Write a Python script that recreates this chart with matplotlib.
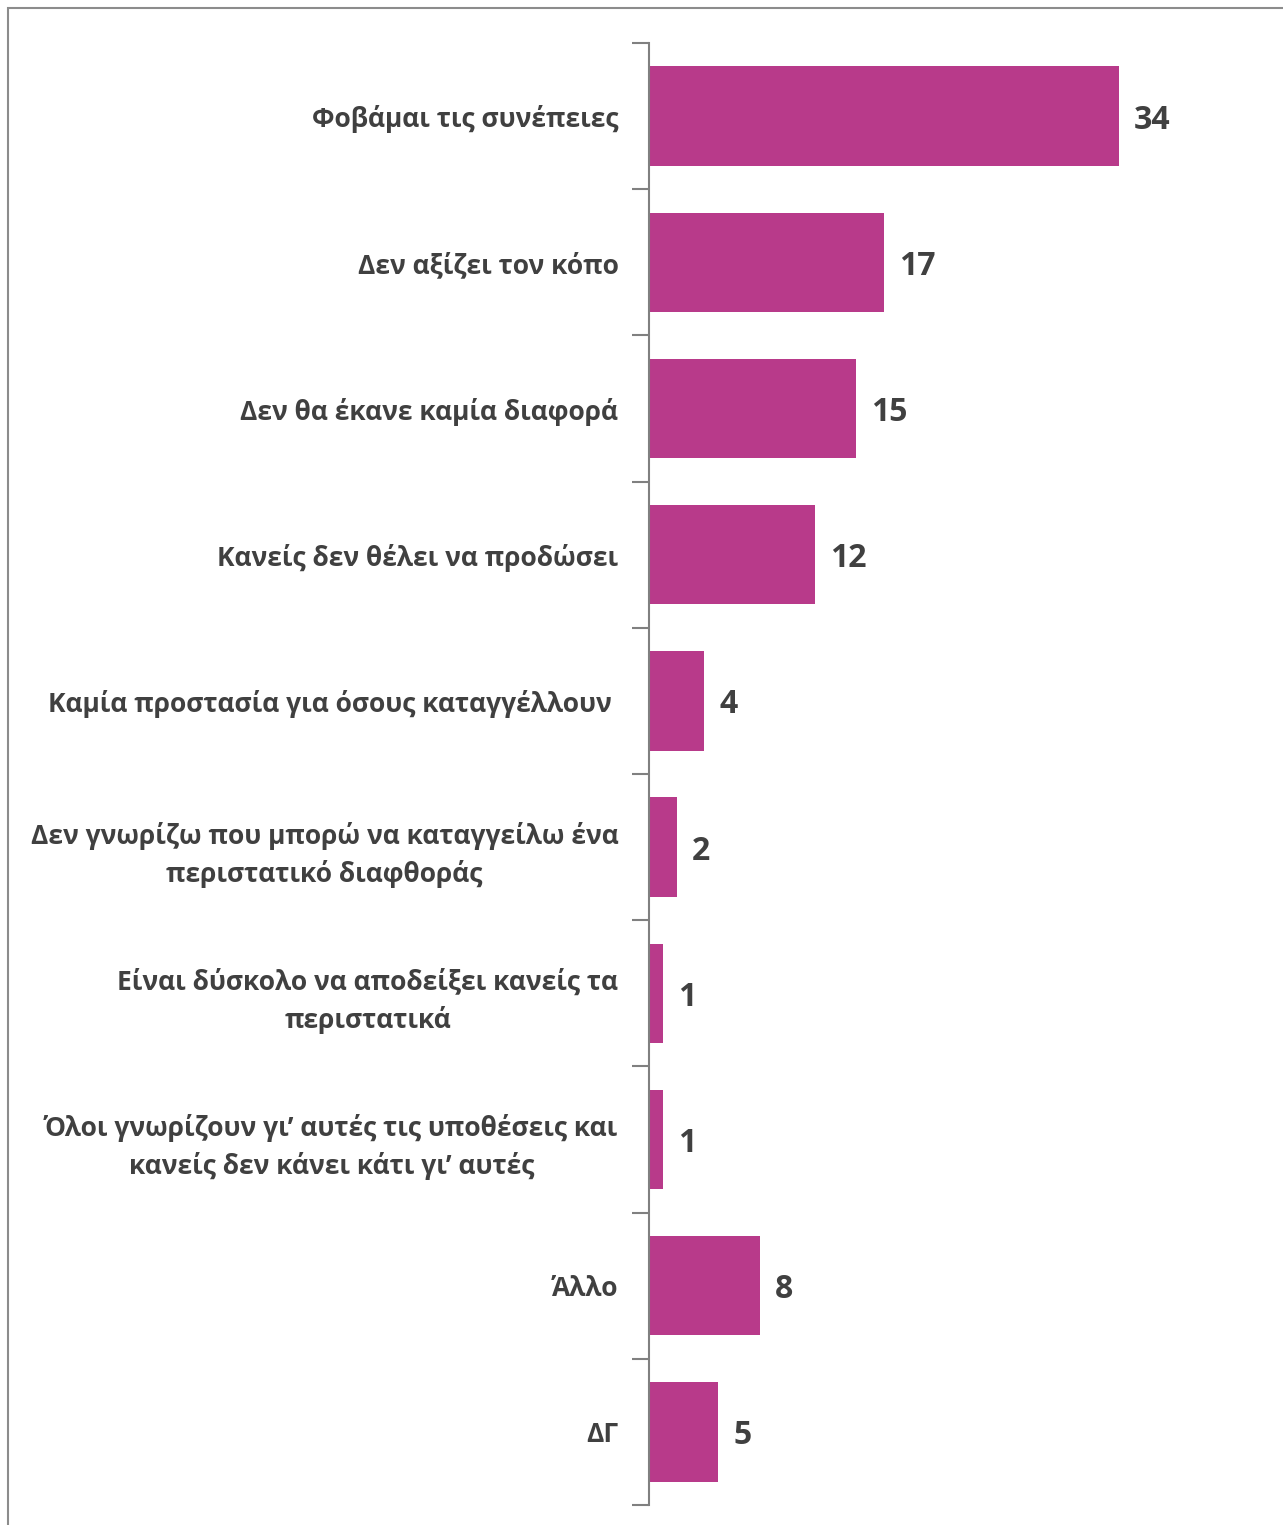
import matplotlib.pyplot as plt
from matplotlib.patches import Rectangle
from matplotlib.ticker import FixedLocator

plt.rcParams['font.family'] = ['Open Sans', 'DejaVu Sans']

categories = [
    "Φοβάμαι τις συνέπειες",
    "Δεν αξίζει τον κόπο",
    "Δεν θα έκανε καμία διαφορά",
    "Κανείς δεν θέλει να προδώσει",
    "Καμία προστασία για όσους καταγγέλλουν ",
    "Δεν γνωρίζω που μπορώ να καταγγείλω ένα\nπεριστατικό διαφθοράς",
    "Είναι δύσκολο να αποδείξει κανείς τα\nπεριστατικά",
    "Όλοι γνωρίζουν γι’ αυτές τις υποθέσεις και\nκανείς δεν κάνει κάτι γι’ αυτές",
    "Άλλο",
    "ΔΓ",
]
values = [34, 17, 15, 12, 4, 2, 1, 1, 8, 5]

bar_color = "#B83A8A"
text_color = "#404040"

fig = plt.figure(figsize=(12.83, 15.25), dpi=100)
ax = fig.add_axes([649 / 1283, 20 / 1525, 634 / 1283, 1462 / 1525])

y = list(range(len(categories)))
ax.barh(y, values, height=0.68, color=bar_color)
ax.set_ylim(len(categories) - 0.5, -0.5)
ax.set_xlim(0, 45.9)

ax.set_yticks(y)
ax.set_yticklabels(categories, fontsize=19, fontweight='bold', color=text_color,
                   multialignment='center', linespacing=1.45)
ax.yaxis.set_minor_locator(FixedLocator([i - 0.5 for i in range(len(categories) + 1)]))
ax.tick_params(axis='y', which='major', length=0, pad=22)
ax.tick_params(axis='y', which='minor', length=12, width=1.5, color='#808080')
ax.set_xticks([])

for s in ['top', 'right', 'bottom']:
    ax.spines[s].set_visible(False)
ax.spines['left'].set_color('#808080')
ax.spines['left'].set_linewidth(1.5)

for yi, v in zip(y, values):
    ax.text(v + 1.1, yi, str(v), va='center_baseline', ha='left', fontsize=23,
            fontweight='bold', color=text_color)

# outer frame (clipped at right and bottom edge like the reference)
fig.patches.append(Rectangle((8 / 1283, -0.01), 1.02, 1 - 8 / 1525 + 0.01,
                             transform=fig.transFigure, fill=False,
                             edgecolor='#8c8c8c', linewidth=1.5))

fig.savefig('out.png', dpi=100)
